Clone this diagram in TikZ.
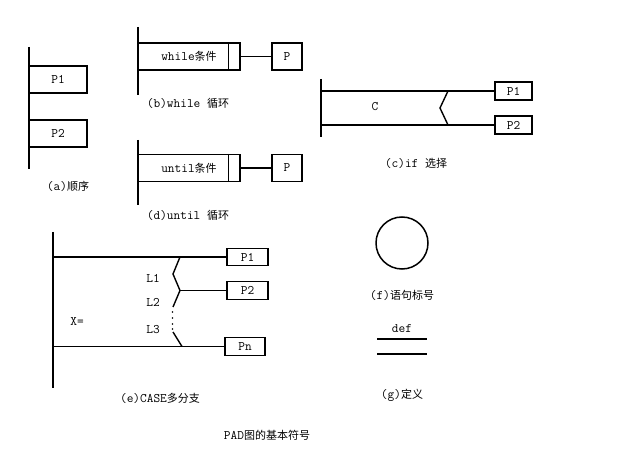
\documentclass[tikz,border=0pt]{standalone}
\usepackage{fontspec}
\newfontfamily\cjkfont{Noto Sans CJK SC}
\newcommand\zhtxt[1]{{\cjkfont\fontsize{11}{13}\selectfont #1}}
\begin{document}
\begin{tikzpicture}[x=1pt,y=-1pt,
  line width=1.4pt,
  txt/.style={font=\ttfamily\fontsize{13}{15}\selectfont, inner sep=0pt},
  pbox/.style={draw, line width=1.4pt, font=\ttfamily\fontsize{13}{15}\selectfont, inner sep=0pt},
  bar/.style={line width=1.7pt},
  lnk/.style={line width=1.4pt}]
\useasboundingbox[fill=white] (0,0) rectangle (637,462);

% (a) sequence
\coordinate (atop) at (29,47);
\coordinate (abot) at (29,169);
\draw[bar] (atop) -- (abot);
\node[pbox, minimum width=58pt, minimum height=27pt] (ap1) at (58,79.5) {P1};
\node[pbox, minimum width=58pt, minimum height=27pt] (ap2) at (58,133.5) {P2};
\node[txt] (alab) at (68,186) {(a)\zhtxt{顺序}};

% (b) while
\coordinate (btop) at (138,27);
\coordinate (bbot) at (138,95);
\draw[bar] (btop) -- (bbot);
\node[pbox, minimum width=102pt, minimum height=27pt] (bw) at (189,56.5) {while\zhtxt{条件}};
\draw[lnk] ([xshift=-12pt]bw.north east) -- ([xshift=-12pt]bw.south east);
\node[pbox, minimum width=30pt, minimum height=27pt] (bp) at (287,56.5) {P};
\draw[lnk] (bw.east) -- (bp.west);
\node[txt] (blab) at (188,103) {(b)while \zhtxt{循环}};

% (d) until
\coordinate (dtop) at (138,140);
\coordinate (dbot) at (138,205);
\draw[bar] (dtop) -- (dbot);
\node[pbox, minimum width=102pt, minimum height=27pt] (du) at (189,168) {until\zhtxt{条件}};
\draw[lnk] ([xshift=-12pt]du.north east) -- ([xshift=-12pt]du.south east);
\node[pbox, minimum width=30pt, minimum height=27pt] (dp) at (287,168) {P};
\draw[lnk] (du.east) -- (dp.west);
\node[txt] (dlab) at (188,215) {(d)until \zhtxt{循环}};

% (c) if
\coordinate (ctop) at (321,79);
\coordinate (cbot) at (321,137);
\draw[bar] (ctop) -- (cbot);
\node[pbox, minimum width=37pt, minimum height=18pt] (cp1) at (513.5,91) {P1};
\node[pbox, minimum width=37pt, minimum height=18pt] (cp2) at (513.5,125) {P2};
\coordinate (cl1) at (321,91);
\coordinate (cl2) at (321,125);
\coordinate (cv1) at (448,91);
\coordinate (cv2) at (440,108);
\coordinate (cv3) at (448,125);
\draw[lnk] (cl1) -- (cp1.west);
\draw[lnk] (cl2) -- (cp2.west);
\draw[lnk] (cv1) -- (cv2) -- (cv3);
\node[txt] (cc) at (375,107) {C};
\node[txt] (clab) at (416,163) {(c)if \zhtxt{选择}};

% (e) case
\coordinate (etop) at (53,232);
\coordinate (ebot) at (53,388);
\draw[bar] (etop) -- (ebot);
\node[pbox, minimum width=41pt, minimum height=17pt] (ep1) at (247.5,257) {P1};
\node[pbox, minimum width=41pt, minimum height=18pt] (ep2) at (247.5,290.5) {P2};
\node[pbox, minimum width=40pt, minimum height=18pt] (epn) at (245,346.5) {Pn};
\coordinate (el1) at (53,257);
\coordinate (el2) at (53,346.5);
\coordinate (ev1) at (180,257);
\coordinate (ev2) at (173,274);
\coordinate (ev3) at (180,290.5);
\coordinate (ev4) at (173,307);
\coordinate (ev5) at (173,332);
\coordinate (ev6) at (182,346.5);
\draw[lnk] (el1) -- (ep1.west);
\draw[lnk] (ev3) -- (ep2.west);
\draw[lnk] (el2) -- (epn.west);
\draw[lnk] (ev1) -- (ev2) -- (ev3) -- (ev4);
\draw[lnk] (ev5) -- (ev6);
\foreach \yy in {312,318,324,329} \fill (172.5,\yy) circle (0.8pt);
\node[txt] (eL1) at (153,278) {L1};
\node[txt] (eL2) at (153,302) {L2};
\node[txt] (eL3) at (153,330) {L3};
\node[txt] (ex) at (77,322) {X=};
\node[txt] (elab) at (160,398) {(e)CASE\zhtxt{多分支}};

% (f) label
\node[draw, circle, line width=1.5pt, minimum size=52pt, inner sep=0pt] (fc) at (402,243) {};
\node[txt] (flab) at (402,295) {(f)\zhtxt{语句标号}};

% (g) definition
\node[txt] (gdef) at (402,329) {def};
\coordinate (g1a) at (377,339);
\coordinate (g1b) at (427,339);
\coordinate (g2a) at (377,354);
\coordinate (g2b) at (427,354);
\draw[lnk] (g1a) -- (g1b);
\draw[lnk] (g2a) -- (g2b);
\node[txt] (glab) at (402,395) {(g)\zhtxt{定义}};

% title
\node[txt] (title) at (267,435) {PAD\zhtxt{图的基本符号}};
\end{tikzpicture}
\end{document}
